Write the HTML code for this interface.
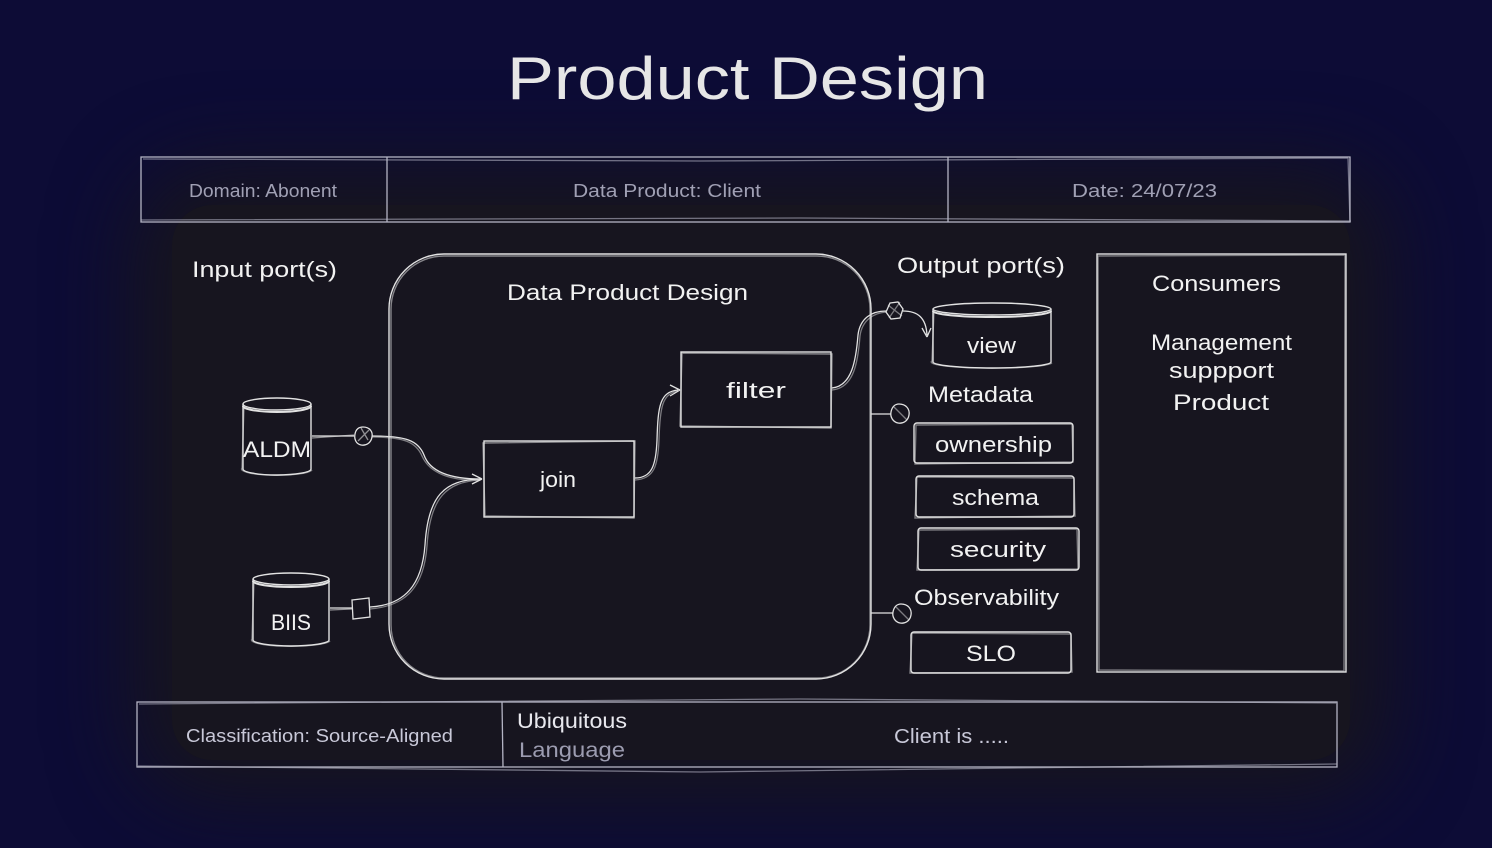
<!DOCTYPE html>
<html>
<head>
<meta charset="utf-8">
<style>
  html,body{margin:0;padding:0;background:#0d0c36;}
  body{width:1492px;height:848px;overflow:hidden;position:relative;}
  #panel{position:absolute;left:172px;top:205px;width:1178px;height:555px;background:#17151f;border-radius:40px;box-shadow:0 0 80px 40px #17151f;}
  svg{display:block;position:absolute;left:0;top:0;}
  text{font-family:"Liberation Sans", sans-serif;}
</style>
</head>
<body>
<div id="panel"></div>
<svg width="1492" height="848" viewBox="0 0 1492 848" xmlns="http://www.w3.org/2000/svg">
  <!-- Title -->
  <text x="507" y="99" font-size="60" fill="#e6e6e6" textLength="481" lengthAdjust="spacingAndGlyphs">Product Design</text>

  <!-- Header bar -->
  <g fill="none" stroke="#b4b4c4" stroke-width="1.3">
    <rect x="141" y="157" width="1209" height="65"/>
    <path d="M143,159 L700,161 L1348,158 M141,220 L800,218 L1351,221 M1348,158 L1350,222" opacity="0.6"/>
    <path d="M387,157 L387,222 M948,157 L948,222"/>
  </g>
  <text x="189" y="197" font-size="18" fill="#a0a0b4" textLength="148" lengthAdjust="spacingAndGlyphs">Domain: Abonent</text>
  <text x="573" y="197" font-size="18" fill="#a0a0b4" textLength="188" lengthAdjust="spacingAndGlyphs">Data Product: Client</text>
  <text x="1072" y="197" font-size="18" fill="#a0a0b4" textLength="145" lengthAdjust="spacingAndGlyphs">Date: 24/07/23</text>

  <!-- Input ports label -->
  <text x="192" y="277" font-size="22" fill="#f2f2f2" textLength="145" lengthAdjust="spacingAndGlyphs">Input port(s)</text>

  <!-- Big rounded rect -->
  <g fill="none" stroke="#e2e2e2" stroke-width="1.4">
    <rect x="389" y="254" width="482" height="425" rx="55"/>
    <rect x="391" y="256" width="479" height="422" rx="53" opacity="0.55"/>
  </g>
  <text x="507" y="300" font-size="22" fill="#f2f2f2" textLength="241" lengthAdjust="spacingAndGlyphs">Data Product Design</text>

  <!-- ALDM cylinder -->
  <g fill="none" stroke="#e2e2e2" stroke-width="1.4">
    <path d="M243,404 A34,6 0 0 1 311,404 A34,6 0 0 1 243,404 Z"/>
    <path d="M243,406 A34,6 0 0 0 311,406" stroke-width="2"/>
    <path d="M243,404 L243,469 A34,6 0 0 0 311,469 L311,404"/>
    <path d="M244,405 L242,468 A34,6 0 0 0 312,470" opacity="0.5"/>
  </g>
  <text x="243" y="457" font-size="22" fill="#f2f2f2" textLength="68" lengthAdjust="spacingAndGlyphs">ALDM</text>

  <!-- BIIS cylinder -->
  <g fill="none" stroke="#e2e2e2" stroke-width="1.4">
    <path d="M253,579 A38,6 0 0 1 329,579 A38,6 0 0 1 253,579 Z"/>
    <path d="M253,581 A38,6 0 0 0 329,581" stroke-width="2"/>
    <path d="M253,579 L253,640 A38,6 0 0 0 329,640 L329,579"/>
    <path d="M254,580 L252,639 A38,6 0 0 0 330,641" opacity="0.5"/>
  </g>
  <text x="271" y="630" font-size="22" fill="#f2f2f2" textLength="40" lengthAdjust="spacingAndGlyphs">BIIS</text>

  <!-- join box -->
  <g fill="none" stroke="#e2e2e2" stroke-width="1.4">
    <rect x="484" y="441" width="150" height="76"/>
    <path d="M483,443 L635,441 L634,518 L485,516 Z" opacity="0.55"/>
  </g>
  <text x="540" y="487" font-size="22" fill="#f2f2f2" textLength="36" lengthAdjust="spacingAndGlyphs">join</text>

  <!-- filter box -->
  <g fill="none" stroke="#e2e2e2" stroke-width="1.4">
    <rect x="681" y="352" width="150" height="75"/>
    <path d="M682,353 L832,354 L831,428 L680,426 Z" opacity="0.55"/>
  </g>
  <text x="726" y="398" font-size="22" fill="#f2f2f2" textLength="60" lengthAdjust="spacingAndGlyphs">filter</text>

  <!-- Connectors -->
  <g fill="none" stroke="#e2e2e2" stroke-width="1.3">
    <path d="M312,436 L354,436"/>
    <path d="M312,438 L354,435" opacity="0.6"/>
    <path d="M363,427 C370,427 373,432 372,437 C371,443 366,446 361,445 C356,444 354,439 355,434 C356,429 359,427 363,427 Z"/>
    <path d="M361,428 L368,440 M358,441 L369,430" opacity="0.6"/>
    <path d="M372,436 C405,436 418,440 424,455 C430,472 450,479 481,479"/>
    <path d="M372,437 C404,437 416,442 422,456 C430,474 452,481 480,480" opacity="0.5"/>
    <path d="M482,479 L472,474 M482,479 L472,484"/>
    <path d="M330,608 L352,608"/>
    <path d="M330,610 L352,609" opacity="0.6"/>
    <path d="M352,600 L369,598 L370,617 L353,619 Z"/>
    <path d="M370,607 C405,605 422,585 425,545 C428,495 445,480 480,479"/>
    <path d="M370,609 C407,606 424,586 427,546 C430,497 447,482 480,480" opacity="0.5"/>
    <path d="M635,478 C652,478 656,465 657,440 C658,405 660,392 678,390"/>
    <path d="M635,480 C654,479 658,466 659,440 C660,407 662,394 678,391" opacity="0.5"/>
    <path d="M680,390 L670,385 M680,390 L670,396"/>
    <path d="M832,388 C852,386 856,360 858,335 C860,318 872,311 886,311"/>
    <path d="M832,390 C854,388 858,362 860,336 C862,320 874,313 886,312" opacity="0.5"/>
    <path d="M890,303 L898,302 L903,309 L900,318 L891,319 L886,312 Z"/>
    <path d="M888,305 L902,316 M889,318 L900,302" opacity="0.5"/>
    <path d="M903,311 C918,311 926,318 927,335"/>
    <path d="M927,337 L922,328 M927,337 L931,328"/>
    <path d="M871,414 L891,414"/>
    <path d="M899,404 C906,404 910,409 909,415 C908,421 903,424 898,423 C893,422 890,417 891,412 C892,407 895,404 899,404 Z"/>
    <path d="M893,406 L907,420" opacity="0.5"/>
    <path d="M871,613 L893,613"/>
    <path d="M901,604 C908,604 912,609 911,615 C910,621 905,624 900,623 C895,622 892,617 893,612 C894,607 897,604 901,604 Z"/>
    <path d="M895,606 L909,620" opacity="0.5"/>
  </g>

  <text x="897" y="273" font-size="22" fill="#f2f2f2" textLength="168" lengthAdjust="spacingAndGlyphs">Output port(s)</text>

  <!-- view cylinder -->
  <g fill="none" stroke="#e2e2e2" stroke-width="1.4">
    <path d="M933,309 A59,6 0 0 1 1051,309 A59,6 0 0 1 933,309 Z"/>
    <path d="M933,311 A59,6 0 0 0 1051,311" stroke-width="2"/>
    <path d="M933,309 L933,362 A59,6 0 0 0 1051,362 L1051,309"/>
    <path d="M934,310 L932,361 A59,6 0 0 0 1052,363" opacity="0.5"/>
  </g>
  <text x="967" y="353" font-size="22" fill="#f2f2f2" textLength="49" lengthAdjust="spacingAndGlyphs">view</text>

  <text x="928" y="402" font-size="22" fill="#f2f2f2" textLength="105" lengthAdjust="spacingAndGlyphs">Metadata</text>

  <g fill="none" stroke="#e2e2e2" stroke-width="1.4">
    <rect x="914" y="423" width="159" height="40" rx="3"/>
    <path d="M916,425 L1072,424 L1073,462 L915,464 Z" opacity="0.5"/>
    <rect x="916" y="476" width="158" height="41" rx="3"/>
    <path d="M917,477 L1074,478 L1075,516 L915,518 Z" opacity="0.5"/>
    <rect x="918" y="528" width="161" height="42" rx="3"/>
    <path d="M919,530 L1077,529 L1078,569 L917,570 Z" opacity="0.5"/>
    <rect x="911" y="632" width="160" height="41" rx="3"/>
    <path d="M912,633 L1071,634 L1072,672 L910,673 Z" opacity="0.5"/>
  </g>
  <text x="935" y="452" font-size="22" fill="#f2f2f2" textLength="117" lengthAdjust="spacingAndGlyphs">ownership</text>
  <text x="952" y="505" font-size="22" fill="#f2f2f2" textLength="87" lengthAdjust="spacingAndGlyphs">schema</text>
  <text x="950" y="557" font-size="22" fill="#f2f2f2" textLength="96" lengthAdjust="spacingAndGlyphs">security</text>
  <text x="914" y="605" font-size="22" fill="#f2f2f2" textLength="145" lengthAdjust="spacingAndGlyphs">Observability</text>
  <text x="966" y="661" font-size="22" fill="#f2f2f2" textLength="50" lengthAdjust="spacingAndGlyphs">SLO</text>

  <g fill="none" stroke="#e2e2e2" stroke-width="1.4">
    <rect x="1097" y="254" width="249" height="418"/>
    <path d="M1098,256 L1345,255 L1344,671 L1099,670 Z" opacity="0.5"/>
  </g>
  <text x="1152" y="291" font-size="22" fill="#f2f2f2" textLength="129" lengthAdjust="spacingAndGlyphs">Consumers</text>
  <text x="1151" y="350" font-size="22" fill="#f2f2f2" textLength="141" lengthAdjust="spacingAndGlyphs">Management</text>
  <text x="1169" y="378" font-size="22" fill="#f2f2f2" textLength="105" lengthAdjust="spacingAndGlyphs">suppport</text>
  <text x="1173" y="410" font-size="22" fill="#f2f2f2" textLength="96" lengthAdjust="spacingAndGlyphs">Product</text>

  <g fill="none" stroke="#b4b4c4" stroke-width="1.3">
    <rect x="137" y="702" width="1200" height="65"/>
    <path d="M139,704 L800,699 L1336,703 M138,766 L700,772 L1337,764" opacity="0.6"/>
    <path d="M502,702 L503,767"/>
  </g>
  <text x="186" y="742" font-size="18" fill="#c8c8d8" textLength="267" lengthAdjust="spacingAndGlyphs">Classification: Source-Aligned</text>
  <text x="517" y="728" font-size="21" fill="#e8e8ee" textLength="110" lengthAdjust="spacingAndGlyphs">Ubiquitous</text>
  <text x="519" y="757" font-size="21" fill="#9c9cb0" textLength="106" lengthAdjust="spacingAndGlyphs">Language</text>
  <text x="894" y="743" font-size="20" fill="#c8c8d8" textLength="115" lengthAdjust="spacingAndGlyphs">Client is .....</text>
</svg>
</body>
</html>
